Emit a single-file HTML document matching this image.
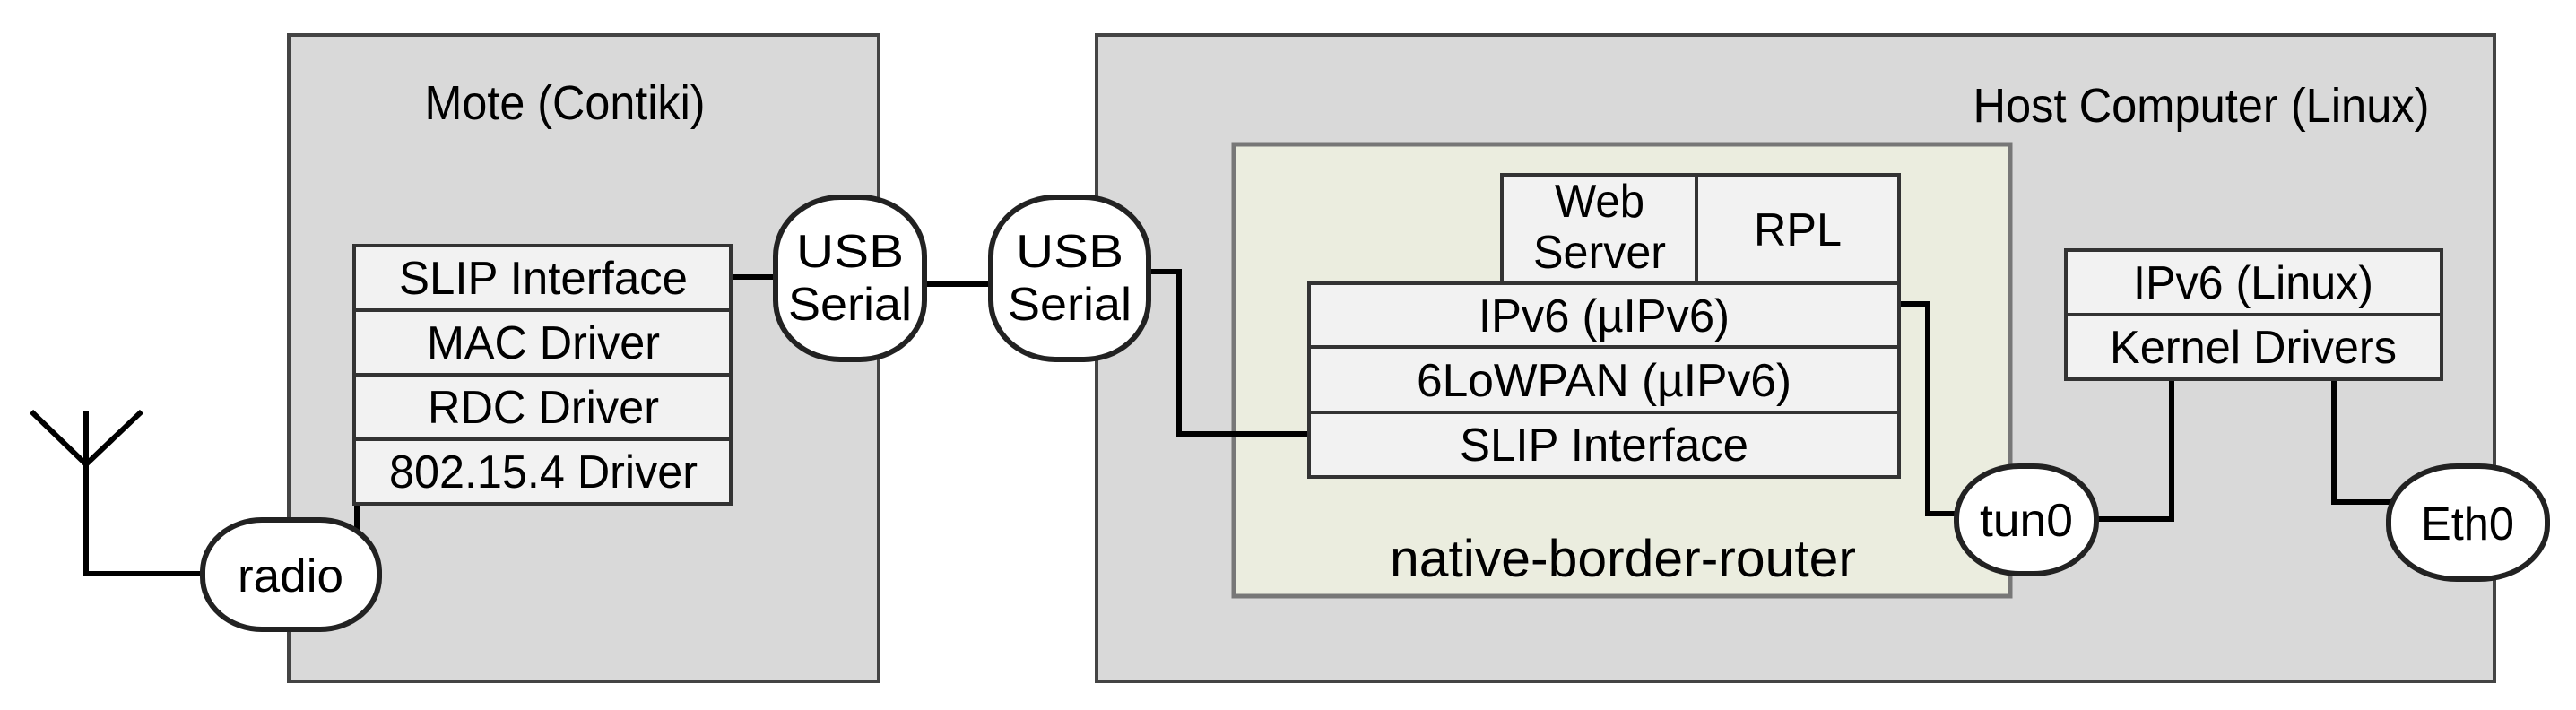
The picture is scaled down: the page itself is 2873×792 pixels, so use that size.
<!DOCTYPE html>
<html><head><meta charset="utf-8"><style>
html,body{margin:0;padding:0;background:#fff;width:2873px;height:792px;overflow:hidden}
text{font-family:"Liberation Sans",sans-serif;fill:#000}
</style></head><body>
<svg width="2873" height="792" viewBox="0 0 2873 792" xmlns="http://www.w3.org/2000/svg">
<rect x="322" y="39" width="658" height="721" fill="#d9d9d9" stroke="#444" stroke-width="4"/>
<text x="630" y="133" font-size="54" text-anchor="middle" textLength="313" lengthAdjust="spacingAndGlyphs">Mote (Contiki)</text>
<rect x="1223" y="39" width="1559" height="721" fill="#d9d9d9" stroke="#444" stroke-width="4"/>
<text x="2455" y="136" font-size="54" text-anchor="middle" textLength="509" lengthAdjust="spacingAndGlyphs">Host Computer (Linux)</text>
<rect x="1376" y="161" width="866" height="504" fill="#ebeddf" stroke="#777" stroke-width="5"/>
<text x="1810" y="643" font-size="58" text-anchor="middle" textLength="520" lengthAdjust="spacingAndGlyphs">native-border-router</text>

<g stroke="#000" stroke-width="6" fill="none">
<polyline points="35,459 96,518 158,459"/>
<polyline points="96,459 96,640 226,640"/>
<polyline points="398,562 398,591"/>
<line x1="815" y1="309" x2="865" y2="309"/>
<line x1="1031" y1="317" x2="1105" y2="317"/>
<polyline points="1281,303 1315,303 1315,484 1460,484"/>
<polyline points="2118,339 2150,339 2150,573 2182,573"/>
<polyline points="2338,579 2422,579 2422,423"/>
<polyline points="2603,423 2603,560 2667,560"/>
</g>

<g stroke="#333" stroke-width="4" fill="#f2f2f2">
<rect x="395" y="274" width="420" height="72"/>
<rect x="395" y="346" width="420" height="72"/>
<rect x="395" y="418" width="420" height="72"/>
<rect x="395" y="490" width="420" height="72"/>
</g>
<g font-size="52" text-anchor="middle">
<text x="606" y="328" textLength="322" lengthAdjust="spacingAndGlyphs">SLIP Interface</text>
<text x="606" y="400" textLength="260" lengthAdjust="spacingAndGlyphs">MAC Driver</text>
<text x="606" y="472" textLength="258" lengthAdjust="spacingAndGlyphs">RDC Driver</text>
<text x="606" y="544" textLength="344" lengthAdjust="spacingAndGlyphs">802.15.4 Driver</text>
</g>

<g stroke="#333" stroke-width="4" fill="#f2f2f2">
<rect x="1675" y="195" width="217" height="121"/>
<rect x="1892" y="195" width="226" height="121"/>
<rect x="1460" y="316" width="658" height="71"/>
<rect x="1460" y="387" width="658" height="73"/>
<rect x="1460" y="460" width="658" height="72"/>
</g>
<g font-size="52" text-anchor="middle">
<text x="1784" y="242" textLength="100" lengthAdjust="spacingAndGlyphs">Web</text>
<text x="1784" y="299" textLength="148" lengthAdjust="spacingAndGlyphs">Server</text>
<text x="2005" y="274" textLength="98" lengthAdjust="spacingAndGlyphs">RPL</text>
<text x="1789" y="370" textLength="280" lengthAdjust="spacingAndGlyphs">IPv6 (µIPv6)</text>
<text x="1789" y="442" textLength="418" lengthAdjust="spacingAndGlyphs">6LoWPAN (µIPv6)</text>
<text x="1789" y="514" textLength="322" lengthAdjust="spacingAndGlyphs">SLIP Interface</text>
</g>

<g stroke="#333" stroke-width="4" fill="#f2f2f2">
<rect x="2304" y="279" width="419" height="72"/>
<rect x="2304" y="351" width="419" height="72"/>
</g>
<g font-size="52" text-anchor="middle">
<text x="2513" y="333" textLength="268" lengthAdjust="spacingAndGlyphs">IPv6 (Linux)</text>
<text x="2513" y="405" textLength="320" lengthAdjust="spacingAndGlyphs">Kernel Drivers</text>
</g>

<g stroke="#222" stroke-width="6" fill="#fff">
<rect x="865" y="220" width="166" height="181" rx="72" ry="66"/>
<rect x="1105" y="220" width="176" height="181" rx="72" ry="66"/>
<rect x="226" y="580" width="197" height="122" rx="66" ry="58"/>
<rect x="2182" y="520" width="156" height="120" rx="70" ry="58"/>
<rect x="2664" y="520" width="177" height="126" rx="76" ry="60"/>
</g>
<g font-size="52" text-anchor="middle">
<text x="948" y="298" textLength="120" lengthAdjust="spacingAndGlyphs">USB</text>
<text x="948" y="357" textLength="138" lengthAdjust="spacingAndGlyphs">Serial</text>
<text x="1193" y="298" textLength="120" lengthAdjust="spacingAndGlyphs">USB</text>
<text x="1193" y="357" textLength="138" lengthAdjust="spacingAndGlyphs">Serial</text>
<text x="324" y="660" textLength="118" lengthAdjust="spacingAndGlyphs">radio</text>
<text x="2260" y="598" textLength="104" lengthAdjust="spacingAndGlyphs">tun0</text>
<text x="2752" y="602" textLength="104" lengthAdjust="spacingAndGlyphs">Eth0</text>
</g>
</svg>
</body></html>
